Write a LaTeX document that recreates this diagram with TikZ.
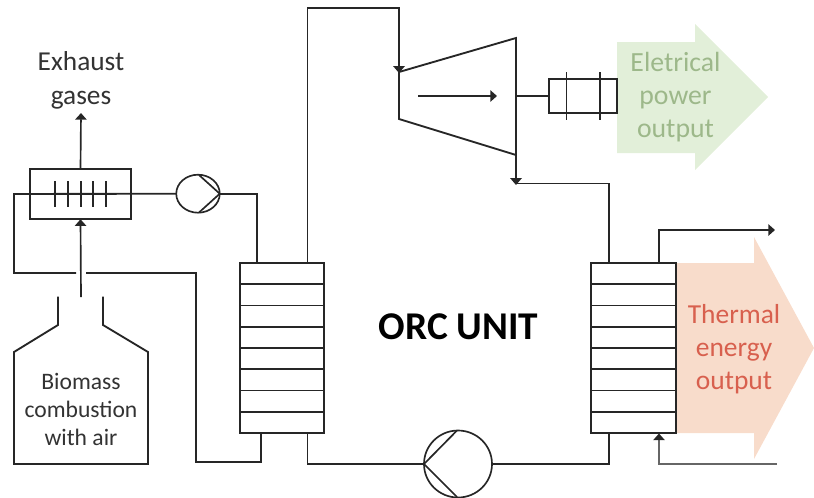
\documentclass[tikz,border=0pt]{standalone}
\usepackage{fontspec}
\setmainfont{Carlito}
\usetikzlibrary{arrows.meta,shapes.geometric,calc}
\definecolor{linecol}{HTML}{262626}
\definecolor{greenfill}{HTML}{E2EFD9}
\definecolor{greentext}{HTML}{9DB88A}
\definecolor{redfill}{HTML}{F8DCCB}
\definecolor{redtext}{HTML}{D8604E}
\tikzset{
  x=0.75pt,y=-0.75pt,
  pipe/.style={draw=linecol,line width=1.4pt,line join=miter},
  thin pipe/.style={draw=linecol,line width=1.25pt},
  flow/.style={thin pipe,-{Triangle[width=8.5pt,length=5pt]}},
  box/.style={draw=linecol,line width=1.4pt,fill=white,inner sep=0pt,outer sep=0pt,minimum width=0pt},
  pumpring/.style={draw=linecol,line width=1.25pt,ellipse,inner sep=0pt,outer sep=0pt},
  lbl/.style={align=center,inner sep=0pt,text=black!80,font=\fontsize{20.5}{25.5}\selectfont},
  smalllbl/.style={align=center,inner sep=0pt,text=black!80,font=\fontsize{17.7}{21}\selectfont},
}
\begin{document}
\begin{tikzpicture}
\useasboundingbox (0,0) rectangle (814,497);
% output arrows
\path[fill=greenfill] (617,42)--(695,42)--(695,24)--(768,97)--(695,170)--(695,153)--(617,153)--cycle;
\path[fill=redfill] (677,263)--(754,263)--(754,237)--(814,348)--(754,459)--(754,433)--(677,433)--cycle;
% named points
\coordinate (turbA) at (399,72);
\coordinate (turbB) at (516,38);
\coordinate (turbC) at (516,155);
\coordinate (turbD) at (399,119);
\node[box,minimum width=101*0.75pt,minimum height=50.5*0.75pt,fill=none] (exch) at (80.5,194) {};
\node[box,minimum width=84.5*0.75pt,minimum height=170*0.75pt,fill=none] (hxa) at (282,348) {};
\node[box,minimum width=85*0.75pt,minimum height=170*0.75pt,fill=none] (hxb) at (633.5,348) {};
\node[pumpring,minimum width=43.5*0.75pt,minimum height=38*0.75pt] (pumpa) at (198,193.7) {};
\node[pumpring,minimum width=68*0.75pt,minimum height=67*0.75pt] (pumpb) at (458,464) {};
\node[box,minimum width=67.5*0.75pt,minimum height=34*0.75pt,fill=none] (gen) at (583,96) {};
% heat exchanger rows
\foreach \k in {1,...,7}{
  \draw[thin pipe] ($(hxa.north west)!\k/8!(hxa.south west)$) -- ($(hxa.north east)!\k/8!(hxa.south east)$);
  \draw[thin pipe] ($(hxb.north west)!\k/8!(hxb.south west)$) -- ($(hxb.north east)!\k/8!(hxb.south east)$);
}
% exchanger fins
\foreach \fx in {55,68,81,93,106}{
  \draw[thin pipe] (\fx,181) -- (\fx,207);
}
% generator bars
\foreach \gx in {566.5,600}{
  \draw[thin pipe] (\gx,72) -- (\gx,120);
}
% turbine
\draw[pipe] (turbA) -- (turbB) -- (turbC) -- (turbD) -- cycle;
\coordinate (shaft) at (516,96);
\draw[thin pipe] (shaft) -- (gen.west);
\coordinate (turbInL) at (418,96);
\coordinate (turbInR) at (497,96);
\draw[flow] (turbInL) -- (turbInR);
% pump triangles
\draw[thin pipe] (199,175) -- (pumpa.east) -- (199,212.5);
\draw[thin pipe] (457,430.5) -- (pumpb.west) -- (457,497);
% hot loop
\coordinate (exL) at (14,194);
\draw[pipe] (pumpa.west) -- (exL) |- (76,273);
\coordinate (gapR) at (86,273);
\coordinate (hotC) at (196,462);
\coordinate (hotD) at (261,462);
\draw[pipe] (gapR) -- (196,273) -- (hotC) -- (hotD) -- (hotD |- hxa.south);
\draw[pipe] (pumpa.east) -- (257,193.7) -- (257,263);
% ORC loop
\coordinate (up) at (307.5,8);
\coordinate (over) at (399,8);
\draw[pipe] (307.5,263) -- (up) -- (over) -- (399,72);
\fill[linecol] (393,66)--(405,66)--(399,73)--cycle;
\coordinate (tOut) at (516,183.5);
\coordinate (tOutB) at (609,183.5);
\draw[pipe] (turbC) -- (tOut) -- (tOutB) -- (609,263);
\fill[linecol] (510,178)--(522,178)--(516,185)--cycle;
\draw[pipe] (307.5,433) |- (pumpb.west);
\draw[pipe] (pumpb.east) -- (609,464) -- (609,433);
% cooling water
\coordinate (cwOutA) at (659,230);
\coordinate (cwOutB) at (775,230);
\draw[flow] (659,263) -- (cwOutA) -- (cwOutB);
\coordinate (cwIn) at (777,464);
\coordinate (cwInB) at (659,464);
\draw[thin pipe,draw=black!60] (cwIn) -- (cwInB) -- (659,437);
\draw[flow] (659,439) -- (659,433.5);
% furnace
\draw[pipe] (58,296.5) -- (58,325) -- (14,352) -- (14,464) -- (148,464) -- (148,352) -- (103,325) -- (103,296.5);
\coordinate (fluegas) at (81,297);
\draw[flow] (fluegas) -- (exch.south);
\coordinate (exhaust) at (81,113);
\draw[flow] (exch.north) -- (exhaust);
% texts
\node[lbl] (tex) at (81,80.5) {Exhaust\\gases};
\node[smalllbl] (tbm) at (81,409) {Biomass\\combustion\\with air};
\node[inner sep=0pt,text=black,font=\fontsize{29.5}{32}\selectfont\bfseries] (torc) at (458.5,327) {ORC UNIT};
\node[lbl,text=greentext,font=\fontsize{20.8}{24.8}\selectfont] (tel) at (675.5,97) {Eletrical\\power\\output};
\node[lbl,text=redtext,font=\fontsize{20.6}{24.8}\selectfont] (tth) at (734,349.5) {Thermal\\energy\\output};
\end{tikzpicture}
\end{document}
